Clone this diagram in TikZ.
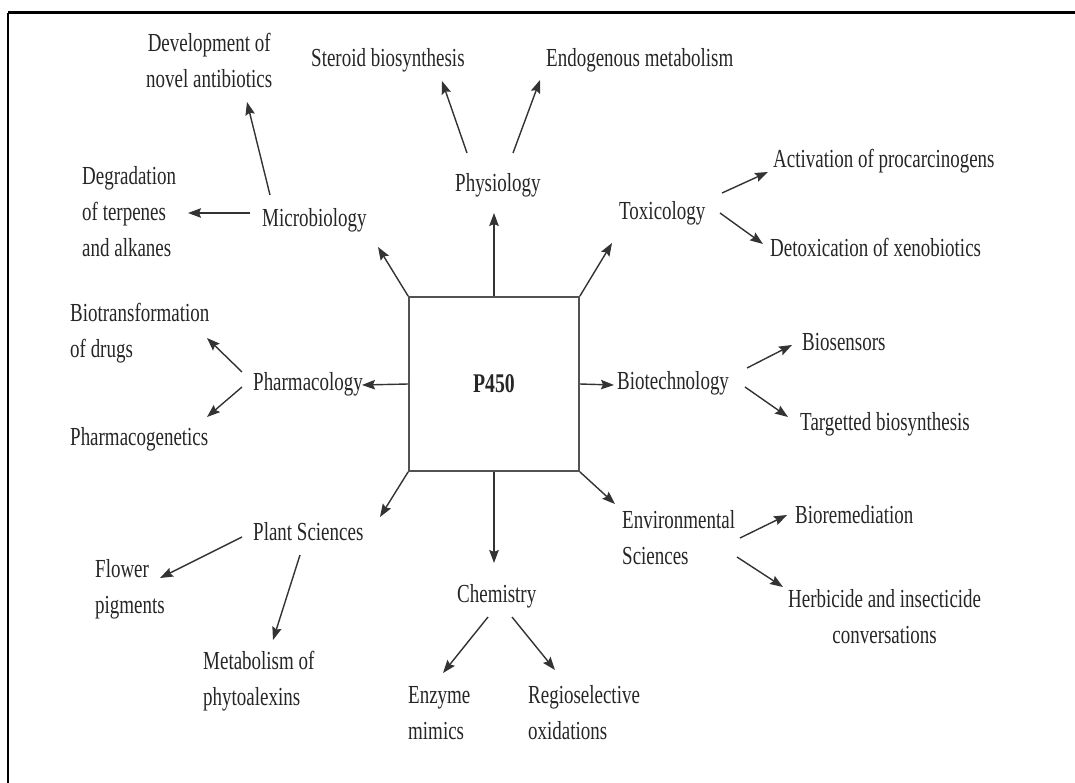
\documentclass[tikz,border=0pt]{standalone}
\usepackage{fontspec}
\setmainfont{Liberation Serif}[FakeStretch=0.73]
\usetikzlibrary{arrows.meta}
\definecolor{ink}{HTML}{262626}
\definecolor{linec}{HTML}{333333}
\begin{document}
\begin{tikzpicture}[x=1pt,y=-1pt,
  lbl/.style={inner sep=0pt, text=ink, font=\fontsize{26}{36}\selectfont, anchor=base west},
  mlbl/.style={lbl, align=left},
  conn/.style={draw=linec, line width=1.4pt, -{Stealth[length=13pt,width=9.5pt,inset=2pt]}},
  hub/.style={draw=linec!85, line width=1.6pt, minimum width=170pt, minimum height=174pt, inner sep=0pt,
    text=ink, font=\bfseries\fontsize{27}{30}\selectfont}]
\useasboundingbox (0,0) rectangle (1075,783);
\fill[white] (0,0) rectangle (1075,783);
\draw[line width=3pt] (8,13) -- (1075,13);
\draw[line width=2pt] (8,13) -- (8,783);

% hub
\node[hub] (p450) at (494,384) {P450};

% first level
\node[lbl] (micro) at (262,227) {Microbiology};
\node[lbl] (phys) at (455,192) {Physiology};
\node[lbl] (tox) at (619,220) {Toxicology};
\node[lbl] (pharm) at (253,390) {Pharmacology};
\node[lbl] (biot) at (617,389) {Biotechnology};
\node[lbl] (plant) at (253,540) {Plant Sciences};
\node[lbl] (chem) at (457,602) {Chemistry};
\node[mlbl] (env) at (622,564) {Environmental\\Sciences};

% second level (base = baseline of last line)
\node[lbl, align=center] (dev) at (146,88) {Development of\\novel antibiotics};
\node[mlbl] (deg) at (82,257) {Degradation\\of terpenes\\and alkanes};
\node[lbl] (ster) at (311,67) {Steroid biosynthesis};
\node[lbl] (endo) at (546,67) {Endogenous metabolism};
\node[lbl] (act) at (773,168) {Activation of procarcinogens};
\node[lbl] (detox) at (770,257) {Detoxication of xenobiotics};
\node[lbl] (bios) at (802,350) {Biosensors};
\node[lbl] (targ) at (800,430) {Targetted biosynthesis};
\node[mlbl] (biotr) at (70,357) {Biotransformation\\of drugs};
\node[lbl] (pgen) at (70,445) {Pharmacogenetics};
\node[mlbl] (flower) at (95,613) {Flower\\pigments};
\node[mlbl] (metab) at (203,705) {Metabolism of\\phytoalexins};
\node[mlbl] (enz) at (408,739) {Enzyme\\mimics};
\node[mlbl] (reg) at (528,739) {Regioselective\\oxidations};
\node[lbl] (biorem) at (795,523) {Bioremediation};
\node[lbl, align=center] (herb) at (788,643) {Herbicide and insecticide\\conversations};

% connector ends
\coordinate (t-micro) at (378,247);
\coordinate (t-phys) at (494,213);
\coordinate (t-tox) at (612,243);
\coordinate (t-pharm) at (362,385);
\coordinate (t-biot) at (614,385);
\coordinate (t-plant) at (380,517);
\coordinate (t-chem) at (494,563);
\coordinate (t-env) at (615,504);

\draw[conn] (p450.north west) -- (t-micro);
\draw[conn] (p450.north) -- (t-phys);
\draw[conn] (p450.north east) -- (t-tox);
\draw[conn] (p450.west) -- (t-pharm);
\draw[conn] (p450.east) -- (t-biot);
\draw[conn] (p450.south west) -- (t-plant);
\draw[conn] (p450.south) -- (t-chem);
\draw[conn] (p450.south east) -- (t-env);

% sub-connectors
\coordinate (s-micro-a) at (270,195); \coordinate (e-dev) at (247,102);
\coordinate (s-micro-b) at (250,213); \coordinate (e-deg) at (188,213);
\coordinate (s-phys-a) at (467,153); \coordinate (e-ster) at (442,81);
\coordinate (s-phys-b) at (513,153); \coordinate (e-endo) at (540,80);
\coordinate (s-tox-a) at (722,193); \coordinate (e-act) at (768,172);
\coordinate (s-tox-b) at (720,213); \coordinate (e-detox) at (763,244);
\coordinate (s-biot-a) at (747,368); \coordinate (e-bios) at (792,345);
\coordinate (s-biot-b) at (745,387); \coordinate (e-targ) at (788,417);
\coordinate (s-pharm-a) at (242,372); \coordinate (e-biotr) at (207,338);
\coordinate (s-pharm-b) at (242,387); \coordinate (e-pgen) at (207,417);
\coordinate (s-plant-a) at (242,537); \coordinate (e-flower) at (160,578);
\coordinate (s-plant-b) at (300,555); \coordinate (e-metab) at (273,640);
\coordinate (s-chem-a) at (488,617); \coordinate (e-enz) at (443,673);
\coordinate (s-chem-b) at (512,617); \coordinate (e-reg) at (555,670);
\coordinate (s-env-a) at (740,538); \coordinate (e-biorem) at (787,515);
\coordinate (s-env-b) at (737,557); \coordinate (e-herb) at (783,587);

\draw[conn] (s-micro-a) -- (e-dev);
\draw[conn] (s-micro-b) -- (e-deg);
\draw[conn] (s-phys-a) -- (e-ster);
\draw[conn] (s-phys-b) -- (e-endo);
\draw[conn] (s-tox-a) -- (e-act);
\draw[conn] (s-tox-b) -- (e-detox);
\draw[conn] (s-biot-a) -- (e-bios);
\draw[conn] (s-biot-b) -- (e-targ);
\draw[conn] (s-pharm-a) -- (e-biotr);
\draw[conn] (s-pharm-b) -- (e-pgen);
\draw[conn] (s-plant-a) -- (e-flower);
\draw[conn] (s-plant-b) -- (e-metab);
\draw[conn] (s-chem-a) -- (e-enz);
\draw[conn] (s-chem-b) -- (e-reg);
\draw[conn] (s-env-a) -- (e-biorem);
\draw[conn] (s-env-b) -- (e-herb);
\end{tikzpicture}
\end{document}
